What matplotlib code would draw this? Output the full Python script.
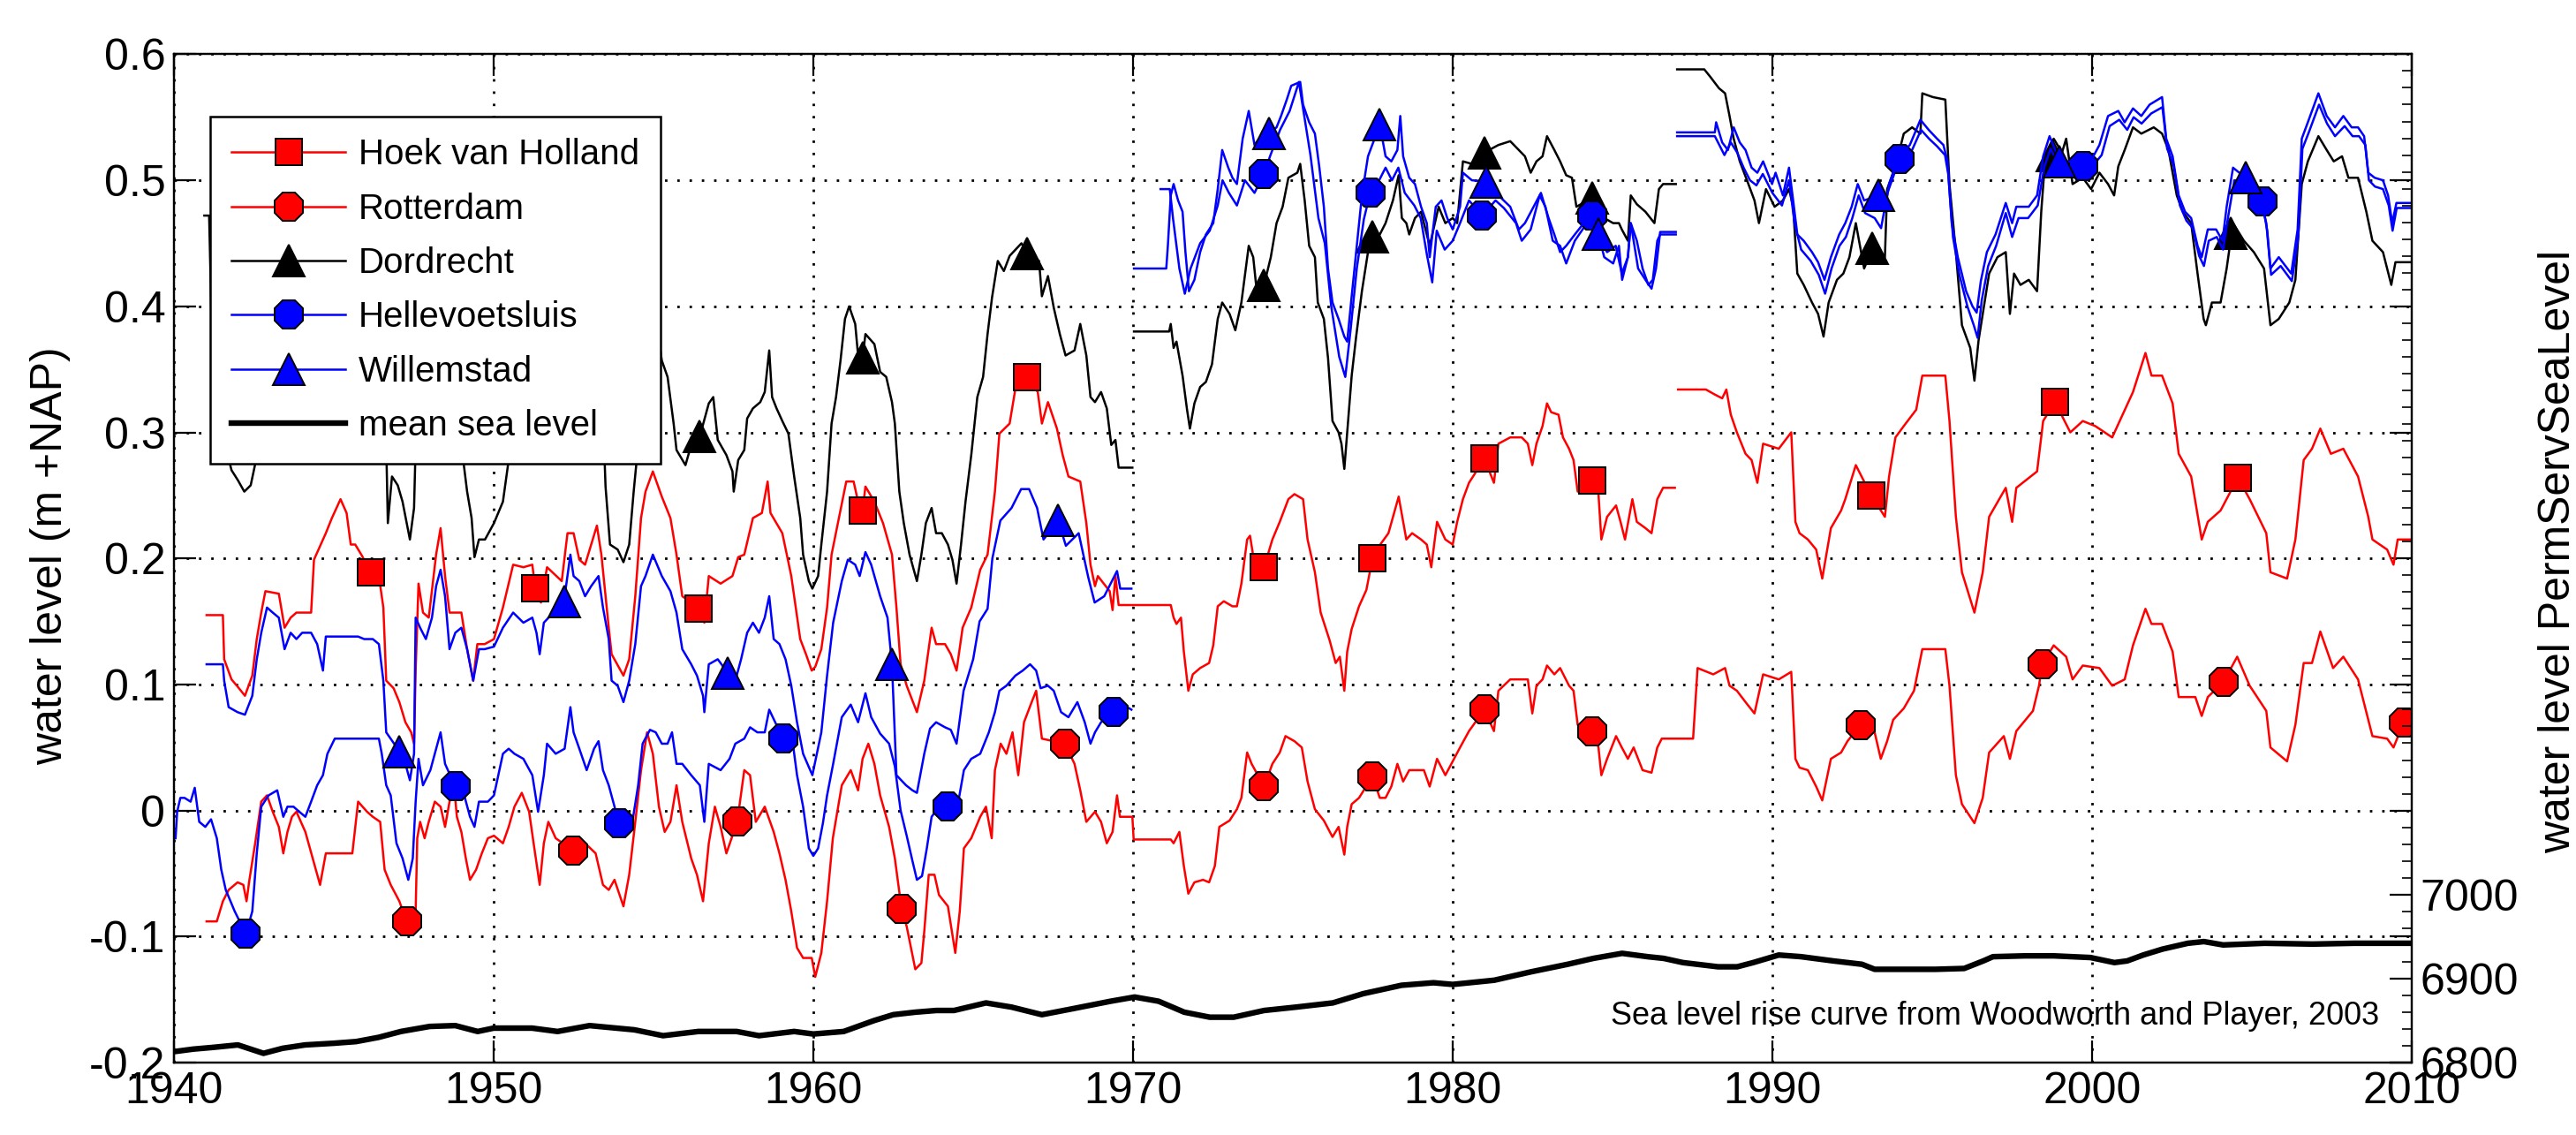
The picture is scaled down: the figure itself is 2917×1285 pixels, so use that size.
import numpy as np
import matplotlib.pyplot as plt
from matplotlib.lines import Line2D
from matplotlib.ticker import MultipleLocator

nan = np.nan

# water level (m +NAP) per station, (year, level)
hoek = [
    (1941.02, 0.155), (1941.53, 0.155), (1941.57, 0.120), (1941.8, 0.104), (1942.0, 0.098), (1942.22, 0.091),
    (1942.45, 0.107), (1942.59, 0.136), (1942.73, 0.157), (1942.86, 0.174), (1943.28, 0.172), (1943.46, 0.145),
    (1943.65, 0.153), (1943.83, 0.157), (1944.29, 0.157), (1944.38, 0.199), (1944.75, 0.220), (1944.94, 0.232),
    (1945.21, 0.247), (1945.40, 0.236), (1945.53, 0.211), (1945.67, 0.211), (1945.86, 0.203), (1946.16, 0.189),
    (1946.41, 0.186), (1946.55, 0.161), (1946.64, 0.103), (1946.87, 0.097), (1947.05, 0.086), (1947.24, 0.070),
    (1947.42, 0.062), (1947.51, 0.053), (1947.56, 0.111), (1947.65, 0.180), (1947.79, 0.157), (1947.97, 0.153),
    (1948.20, 0.203), (1948.34, 0.224), (1948.48, 0.186), (1948.62, 0.157), (1948.99, 0.157), (1949.17, 0.128),
    (1949.36, 0.103), (1949.49, 0.132), (1949.72, 0.132), (1950.01, 0.136), (1950.29, 0.161), (1950.61, 0.195),
    (1950.93, 0.193), (1951.21, 0.195), (1951.30, 0.176), (1951.48, 0.165), (1951.67, 0.193), (1952.13, 0.182),
    (1952.31, 0.220), (1952.50, 0.220), (1952.68, 0.199), (1952.86, 0.195), (1953.23, 0.226), (1953.37, 0.203),
    (1953.60, 0.145), (1953.69, 0.124), (1954.06, 0.107), (1954.24, 0.120), (1954.43, 0.170), (1954.61, 0.232),
    (1954.75, 0.253), (1954.98, 0.269), (1955.26, 0.249), (1955.53, 0.232), (1955.72, 0.203), (1955.90, 0.170),
    (1956.18, 0.165), (1956.41, 0.160), (1956.59, 0.149), (1956.73, 0.186), (1957.10, 0.180), (1957.47, 0.186),
    (1957.65, 0.201), (1957.84, 0.203), (1958.11, 0.232), (1958.39, 0.236), (1958.57, 0.261), (1958.66, 0.236),
    (1959.03, 0.220), (1959.31, 0.186), (1959.59, 0.136), (1959.77, 0.124), (1959.95, 0.111), (1960.06, 0.114),
    (1960.25, 0.128), (1960.43, 0.161), (1960.57, 0.203), (1960.80, 0.232), (1961.03, 0.261), (1961.26, 0.261),
    (1961.40, 0.245), (1961.54, 0.238), (1961.63, 0.257), (1961.91, 0.245), (1962.18, 0.228), (1962.46, 0.203),
    (1962.60, 0.161), (1962.73, 0.116), (1962.92, 0.099), (1963.24, 0.078), (1963.47, 0.103), (1963.70, 0.145),
    (1963.84, 0.132), (1964.12, 0.132), (1964.30, 0.124), (1964.48, 0.111), (1964.67, 0.145), (1964.94, 0.161),
    (1965.22, 0.191), (1965.45, 0.203), (1965.68, 0.253), (1965.82, 0.299), (1966.14, 0.307), (1966.33, 0.336),
    (1966.68, 0.344), (1967.02, 0.332), (1967.15, 0.307), (1967.34, 0.324), (1967.62, 0.303), (1967.80, 0.282),
    (1967.98, 0.265), (1968.35, 0.261), (1968.54, 0.228), (1968.67, 0.195), (1968.81, 0.178), (1968.90, 0.186),
    (1969.27, 0.174), (1969.36, 0.159), (1969.45, 0.186), (1969.55, 0.163), (1971.18, 0.163), (1971.27, 0.153),
    (1971.36, 0.148), (1971.50, 0.153), (1971.59, 0.126), (1971.73, 0.095), (1971.87, 0.108), (1972.10, 0.113),
    (1972.38, 0.117), (1972.51, 0.131), (1972.65, 0.162), (1972.84, 0.166), (1973.11, 0.162), (1973.25, 0.162),
    (1973.39, 0.180), (1973.57, 0.215), (1973.66, 0.218), (1973.76, 0.202), (1974.10, 0.193), (1974.36, 0.215),
    (1974.59, 0.229), (1974.86, 0.247), (1975.05, 0.251), (1975.32, 0.247), (1975.46, 0.215), (1975.69, 0.189),
    (1975.87, 0.157), (1976.15, 0.135), (1976.34, 0.117), (1976.47, 0.122), (1976.61, 0.095), (1976.70, 0.126),
    (1976.84, 0.144), (1977.07, 0.162), (1977.30, 0.175), (1977.49, 0.200), (1977.62, 0.207), (1977.99, 0.220),
    (1978.31, 0.249), (1978.55, 0.215), (1978.73, 0.220), (1979.01, 0.215), (1979.19, 0.211), (1979.33, 0.193),
    (1979.51, 0.229), (1979.77, 0.215), (1980.0, 0.211), (1980.14, 0.229), (1980.32, 0.247), (1980.51, 0.260),
    (1980.99, 0.279), (1981.29, 0.260), (1981.43, 0.291), (1981.80, 0.296), (1982.16, 0.296), (1982.35, 0.291),
    (1982.49, 0.274), (1982.62, 0.291), (1982.81, 0.305), (1982.95, 0.323), (1983.08, 0.316), (1983.31, 0.314),
    (1983.45, 0.296), (1983.64, 0.287), (1983.78, 0.278), (1983.91, 0.253), (1984.36, 0.262), (1984.56, 0.251),
    (1984.65, 0.215), (1984.83, 0.233), (1985.11, 0.242), (1985.25, 0.229), (1985.39, 0.215), (1985.62, 0.247),
    (1985.76, 0.229), (1986.03, 0.224), (1986.22, 0.220), (1986.40, 0.247), (1986.58, 0.256), (1986.95, 0.256),
    (1987.0, nan),
    (1987.05, 0.334), (1987.92, 0.334), (1988.20, 0.330), (1988.43, 0.327), (1988.56, 0.334), (1988.70, 0.314),
    (1988.89, 0.300), (1989.16, 0.283), (1989.35, 0.278), (1989.53, 0.260), (1989.71, 0.291), (1990.20, 0.287),
    (1990.59, 0.300), (1990.72, 0.229), (1990.85, 0.220), (1991.11, 0.215), (1991.37, 0.207), (1991.56, 0.184),
    (1991.83, 0.224), (1992.15, 0.238), (1992.28, 0.247), (1992.61, 0.274), (1993.09, 0.250), (1993.52, 0.233),
    (1993.65, 0.265), (1993.85, 0.296), (1994.11, 0.305), (1994.50, 0.318), (1994.69, 0.345), (1995.41, 0.345),
    (1995.54, 0.309), (1995.74, 0.233), (1995.93, 0.189), (1996.32, 0.157), (1996.58, 0.189), (1996.78, 0.233),
    (1997.30, 0.256), (1997.50, 0.229), (1997.63, 0.256), (1998.28, 0.269), (1998.47, 0.309), (1998.84, 0.324),
    (1999.32, 0.300), (1999.71, 0.309), (2000.10, 0.305), (2000.63, 0.296), (2001.28, 0.332), (2001.67, 0.363),
    (2001.86, 0.345), (2002.19, 0.345), (2002.52, 0.323), (2002.71, 0.283), (2003.10, 0.265), (2003.43, 0.215),
    (2003.62, 0.229), (2004.02, 0.238), (2004.56, 0.264), (2004.93, 0.247), (2005.45, 0.220), (2005.58, 0.189),
    (2006.10, 0.184), (2006.36, 0.215), (2006.62, 0.278), (2006.88, 0.287), (2007.14, 0.303), (2007.47, 0.283),
    (2007.86, 0.287), (2008.32, 0.265), (2008.64, 0.233), (2008.77, 0.215), (2009.23, 0.207), (2009.43, 0.195),
    (2009.56, 0.215), (2010.0, 0.215),
]

rotterdam = [
    (1941.02, -0.088), (1941.34, -0.088), (1941.53, -0.072), (1941.71, -0.063), (1941.99, -0.057), (1942.17, -0.059),
    (1942.27, -0.072), (1942.36, -0.055), (1942.54, -0.026), (1942.73, 0.007), (1942.91, 0.012), (1943.09, -0.001),
    (1943.28, -0.013), (1943.42, -0.034), (1943.55, -0.017), (1943.69, -0.005), (1943.83, -0.001), (1944.11, -0.017),
    (1944.34, -0.038), (1944.57, -0.059), (1944.75, -0.034), (1945.58, -0.034), (1945.76, 0.007), (1946.04, -0.001),
    (1946.22, -0.005), (1946.45, -0.009), (1946.59, -0.047), (1946.78, -0.059), (1947.05, -0.072), (1947.28, -0.088),
    (1947.56, -0.080), (1947.61, -0.022), (1947.70, -0.009), (1947.84, -0.022), (1947.97, -0.009), (1948.16, 0.007),
    (1948.34, 0.003), (1948.48, -0.013), (1948.62, 0.007), (1948.76, 0.020), (1948.85, -0.005), (1948.99, -0.017),
    (1949.13, -0.038), (1949.26, -0.055), (1949.45, -0.047), (1949.63, -0.034), (1949.82, -0.022), (1950.01, -0.020),
    (1950.29, -0.026), (1950.47, -0.013), (1950.65, 0.003), (1950.88, 0.014), (1951.11, -0.001), (1951.25, -0.026),
    (1951.44, -0.059), (1951.57, -0.026), (1951.71, -0.009), (1951.94, -0.022), (1952.50, -0.032), (1952.86, -0.026),
    (1953.19, -0.034), (1953.42, -0.059), (1953.60, -0.063), (1953.78, -0.055), (1954.06, -0.076), (1954.24, -0.051),
    (1954.43, -0.009), (1954.61, 0.032), (1954.80, 0.062), (1954.98, 0.045), (1955.17, 0.003), (1955.35, -0.017),
    (1955.53, -0.009), (1955.72, 0.020), (1955.90, -0.009), (1956.18, -0.038), (1956.36, -0.051), (1956.55, -0.072),
    (1956.73, -0.026), (1956.92, 0.003), (1957.10, -0.013), (1957.28, -0.034), (1957.62, -0.009), (1957.84, 0.032),
    (1958.02, 0.028), (1958.20, -0.009), (1958.48, 0.003), (1958.76, -0.017), (1958.94, -0.034), (1959.13, -0.055),
    (1959.31, -0.080), (1959.49, -0.109), (1959.68, -0.117), (1959.95, -0.117), (1960.06, -0.132), (1960.25, -0.113),
    (1960.43, -0.072), (1960.61, -0.022), (1960.89, 0.020), (1961.17, 0.032), (1961.40, 0.016), (1961.54, 0.041),
    (1961.72, 0.053), (1961.91, 0.037), (1962.09, 0.012), (1962.37, -0.013), (1962.55, -0.038), (1962.76, -0.078),
    (1962.92, -0.092), (1963.19, -0.126), (1963.38, -0.121), (1963.47, -0.096), (1963.61, -0.051), (1963.79, -0.051),
    (1963.93, -0.067), (1964.21, -0.076), (1964.44, -0.113), (1964.58, -0.080), (1964.71, -0.030), (1964.94, -0.022),
    (1965.22, -0.005), (1965.40, 0.003), (1965.58, -0.022), (1965.68, 0.032), (1965.86, 0.053), (1966.04, 0.045),
    (1966.23, 0.062), (1966.41, 0.028), (1966.59, 0.070), (1966.83, 0.086), (1966.97, 0.095), (1967.15, 0.057),
    (1967.87, 0.053), (1968.17, 0.037), (1968.35, 0.016), (1968.54, -0.009), (1968.81, -0.001), (1969.0, -0.009),
    (1969.18, -0.026), (1969.36, -0.017), (1969.50, 0.012), (1969.59, -0.005), (1969.98, -0.005), (1970.02, -0.023),
    (1971.18, -0.023), (1971.27, -0.026), (1971.45, -0.017), (1971.59, -0.044), (1971.73, -0.066), (1971.92, -0.057),
    (1972.19, -0.055), (1972.38, -0.057), (1972.56, -0.044), (1972.70, -0.013), (1973.02, -0.008), (1973.25, 0.001),
    (1973.39, 0.010), (1973.57, 0.046), (1973.71, 0.037), (1974.10, 0.019), (1974.36, 0.037), (1974.59, 0.046),
    (1974.77, 0.059), (1975.05, 0.055), (1975.28, 0.050), (1975.46, 0.023), (1975.69, 0.001), (1975.97, -0.008),
    (1976.24, -0.021), (1976.43, -0.013), (1976.61, -0.035), (1976.70, -0.013), (1976.84, 0.005), (1977.07, 0.010),
    (1977.49, 0.027), (1977.72, 0.010), (1977.90, 0.010), (1978.08, 0.019), (1978.27, 0.037), (1978.45, 0.023),
    (1978.64, 0.032), (1978.91, 0.032), (1979.10, 0.032), (1979.28, 0.019), (1979.51, 0.041), (1979.77, 0.028),
    (1980.0, 0.039), (1980.23, 0.050), (1980.51, 0.063), (1980.99, 0.080), (1981.29, 0.063), (1981.43, 0.095),
    (1981.80, 0.104), (1982.16, 0.104), (1982.35, 0.104), (1982.49, 0.077), (1982.62, 0.099), (1982.81, 0.104),
    (1982.95, 0.115), (1983.18, 0.108), (1983.36, 0.113), (1983.64, 0.099), (1983.78, 0.095), (1983.91, 0.068),
    (1984.37, 0.063), (1984.56, 0.050), (1984.65, 0.028), (1984.83, 0.041), (1985.11, 0.059), (1985.29, 0.050),
    (1985.48, 0.041), (1985.66, 0.050), (1985.94, 0.032), (1986.22, 0.030), (1986.40, 0.050), (1986.54, 0.057),
    (1987.52, 0.057), (1987.66, 0.113), (1988.15, 0.108), (1988.52, 0.113), (1988.66, 0.099), (1988.89, 0.095),
    (1989.16, 0.086), (1989.44, 0.077), (1989.71, 0.108), (1990.20, 0.104), (1990.59, 0.110), (1990.72, 0.041),
    (1990.85, 0.034), (1991.11, 0.032), (1991.37, 0.019), (1991.56, 0.008), (1991.83, 0.041), (1992.15, 0.046),
    (1992.35, 0.055), (1992.75, 0.068), (1993.19, 0.063), (1993.39, 0.041), (1993.59, 0.055), (1993.78, 0.072),
    (1994.11, 0.081), (1994.43, 0.095), (1994.69, 0.128), (1995.41, 0.128), (1995.54, 0.099), (1995.74, 0.028),
    (1995.93, 0.005), (1996.32, -0.010), (1996.58, 0.010), (1996.78, 0.046), (1997.24, 0.059), (1997.43, 0.041),
    (1997.63, 0.063), (1998.15, 0.079), (1998.34, 0.099), (1998.44, 0.116), (1998.80, 0.131), (1999.19, 0.122),
    (1999.39, 0.104), (1999.71, 0.115), (2000.23, 0.113), (2000.63, 0.099), (2001.02, 0.104), (2001.28, 0.131),
    (2001.67, 0.160), (2001.86, 0.148), (2002.19, 0.148), (2002.52, 0.126), (2002.71, 0.090), (2003.23, 0.090),
    (2003.43, 0.075), (2003.62, 0.090), (2004.11, 0.102), (2004.54, 0.122), (2004.93, 0.099), (2005.45, 0.079),
    (2005.58, 0.050), (2006.10, 0.039), (2006.36, 0.068), (2006.62, 0.117), (2006.88, 0.117), (2007.14, 0.142),
    (2007.54, 0.113), (2007.86, 0.122), (2008.32, 0.104), (2008.64, 0.072), (2008.77, 0.059), (2009.23, 0.057),
    (2009.43, 0.050), (2009.75, 0.070), (2010.0, 0.070),
]

dordrecht = [
    (1940.95, 0.472), (1941.1, 0.472), (1941.2, 0.36), (1941.4, 0.30), (1941.6, 0.290), (1941.8, 0.270),
    (1942.0, 0.262), (1942.2, 0.253), (1942.4, 0.258), (1942.55, 0.276), (1942.7, 0.33), (1943.0, 0.34),
    (1943.3, 0.31), (1943.46, 0.288), (1943.7, 0.33), (1944.2, 0.36), (1944.8, 0.38), (1945.3, 0.36),
    (1945.9, 0.33), (1946.4, 0.31), (1946.64, 0.290), (1946.69, 0.228), (1946.82, 0.265), (1947.0, 0.258),
    (1947.15, 0.245), (1947.38, 0.215), (1947.51, 0.240), (1947.56, 0.29), (1947.8, 0.35), (1948.2, 0.38),
    (1948.6, 0.34), (1948.99, 0.290), (1949.17, 0.253), (1949.31, 0.232), (1949.40, 0.201), (1949.54, 0.215),
    (1949.73, 0.215), (1950.01, 0.228), (1950.29, 0.245), (1950.47, 0.278), (1950.65, 0.30), (1951.0, 0.33),
    (1951.4, 0.29), (1951.8, 0.33), (1952.3, 0.36), (1952.9, 0.34), (1953.3, 0.30), (1953.46, 0.286),
    (1953.50, 0.257), (1953.64, 0.211), (1953.88, 0.207), (1954.06, 0.197), (1954.24, 0.211), (1954.38, 0.253),
    (1954.52, 0.290), (1954.7, 0.34), (1955.0, 0.38), (1955.17, 0.373), (1955.26, 0.357), (1955.44, 0.344),
    (1955.63, 0.307), (1955.72, 0.286), (1956.0, 0.274), (1956.18, 0.290), (1956.45, 0.297), (1956.73, 0.323),
    (1956.87, 0.328), (1957.01, 0.294), (1957.28, 0.282), (1957.47, 0.269), (1957.51, 0.253), (1957.65, 0.278),
    (1957.84, 0.286), (1957.93, 0.311), (1958.11, 0.319), (1958.34, 0.324), (1958.48, 0.332), (1958.62, 0.365),
    (1958.71, 0.328), (1958.85, 0.319), (1959.03, 0.309), (1959.22, 0.299), (1959.40, 0.265), (1959.59, 0.232),
    (1959.68, 0.203), (1959.86, 0.182), (1959.97, 0.176), (1960.15, 0.186), (1960.25, 0.211), (1960.43, 0.253),
    (1960.57, 0.307), (1960.71, 0.328), (1960.85, 0.357), (1960.99, 0.390), (1961.12, 0.400), (1961.31, 0.386),
    (1961.40, 0.361), (1961.54, 0.359), (1961.63, 0.378), (1961.91, 0.370), (1962.09, 0.348), (1962.28, 0.344),
    (1962.46, 0.324), (1962.55, 0.307), (1962.69, 0.253), (1962.83, 0.228), (1963.01, 0.203), (1963.24, 0.182),
    (1963.38, 0.203), (1963.52, 0.228), (1963.70, 0.240), (1963.84, 0.220), (1964.02, 0.220), (1964.21, 0.211),
    (1964.35, 0.199), (1964.48, 0.180), (1964.62, 0.211), (1964.76, 0.245), (1964.94, 0.282), (1965.13, 0.328),
    (1965.31, 0.344), (1965.45, 0.378), (1965.59, 0.407), (1965.77, 0.436), (1965.96, 0.428), (1966.14, 0.440),
    (1966.51, 0.450), (1966.69, 0.442), (1967.06, 0.436), (1967.15, 0.408), (1967.34, 0.424), (1967.52, 0.399),
    (1967.71, 0.378), (1967.89, 0.361), (1968.17, 0.365), (1968.35, 0.386), (1968.54, 0.361), (1968.67, 0.328),
    (1968.81, 0.324), (1969.0, 0.332), (1969.18, 0.319), (1969.32, 0.290), (1969.45, 0.294), (1969.55, 0.272),
    (1969.98, 0.272), (1970.0, nan),
    (1970.03, 0.380), (1971.13, 0.380), (1971.18, 0.386), (1971.27, 0.367), (1971.36, 0.372), (1971.55, 0.345),
    (1971.69, 0.318), (1971.78, 0.303), (1971.92, 0.323), (1972.10, 0.336), (1972.28, 0.340), (1972.47, 0.354),
    (1972.65, 0.390), (1972.79, 0.403), (1973.02, 0.394), (1973.20, 0.381), (1973.39, 0.403), (1973.62, 0.448),
    (1973.76, 0.439), (1973.85, 0.417), (1974.10, 0.417), (1974.31, 0.439), (1974.49, 0.466), (1974.68, 0.479),
    (1974.86, 0.502), (1975.14, 0.506), (1975.23, 0.513), (1975.37, 0.484), (1975.51, 0.448), (1975.69, 0.439),
    (1975.78, 0.403), (1975.97, 0.390), (1976.10, 0.359), (1976.24, 0.309), (1976.43, 0.300), (1976.52, 0.291),
    (1976.61, 0.271), (1976.70, 0.300), (1976.84, 0.345), (1976.98, 0.376), (1977.16, 0.412), (1977.35, 0.443),
    (1977.49, 0.455), (1977.72, 0.457), (1977.90, 0.466), (1978.13, 0.484), (1978.31, 0.504), (1978.41, 0.470),
    (1978.55, 0.466), (1978.64, 0.457), (1978.82, 0.470), (1979.01, 0.475), (1979.28, 0.448), (1979.56, 0.479),
    (1979.77, 0.466), (1980.0, 0.470), (1980.14, 0.466), (1980.32, 0.515), (1980.60, 0.513), (1980.99, 0.522),
    (1981.43, 0.528), (1981.80, 0.531), (1982.07, 0.524), (1982.26, 0.519), (1982.44, 0.506), (1982.62, 0.515),
    (1982.81, 0.519), (1982.95, 0.535), (1983.18, 0.524), (1983.36, 0.515), (1983.55, 0.504), (1983.73, 0.502),
    (1983.87, 0.479), (1984.36, 0.486), (1984.56, 0.479), (1984.74, 0.470), (1985.02, 0.466), (1985.20, 0.466),
    (1985.29, 0.461), (1985.48, 0.452), (1985.57, 0.488), (1985.76, 0.481), (1986.03, 0.475), (1986.31, 0.466),
    (1986.45, 0.493), (1986.58, 0.497), (1986.98, 0.497), (1987.0, nan),
    (1987.02, 0.588), (1987.87, 0.588), (1988.06, 0.582), (1988.33, 0.573), (1988.52, 0.569), (1988.66, 0.551),
    (1988.79, 0.533), (1988.98, 0.515), (1989.25, 0.497), (1989.44, 0.484), (1989.58, 0.466), (1989.80, 0.493),
    (1990.07, 0.479), (1990.33, 0.484), (1990.52, 0.493), (1990.65, 0.479), (1990.78, 0.426), (1990.98, 0.417),
    (1991.24, 0.403), (1991.43, 0.394), (1991.60, 0.376), (1991.76, 0.403), (1992.02, 0.421), (1992.22, 0.426),
    (1992.41, 0.439), (1992.61, 0.466), (1992.87, 0.430), (1993.13, 0.446), (1993.39, 0.443), (1993.52, 0.439),
    (1993.59, 0.493), (1993.85, 0.511), (1994.11, 0.537), (1994.37, 0.542), (1994.63, 0.537), (1994.69, 0.569),
    (1995.02, 0.566), (1995.41, 0.564), (1995.54, 0.497), (1995.74, 0.443), (1995.93, 0.385), (1996.19, 0.367),
    (1996.32, 0.341), (1996.45, 0.373), (1996.58, 0.394), (1996.78, 0.426), (1997.04, 0.439), (1997.30, 0.443),
    (1997.43, 0.394), (1997.56, 0.426), (1997.76, 0.417), (1998.02, 0.421), (1998.28, 0.412), (1998.41, 0.475),
    (1998.54, 0.519), (1998.80, 0.533), (1999.06, 0.522), (1999.19, 0.533), (1999.39, 0.497), (1999.71, 0.502),
    (1999.97, 0.493), (2000.23, 0.506), (2000.50, 0.497), (2000.69, 0.488), (2000.82, 0.511), (2001.02, 0.524),
    (2001.28, 0.542), (2001.54, 0.537), (2001.93, 0.542), (2002.19, 0.537), (2002.39, 0.524), (2002.65, 0.488),
    (2002.84, 0.475), (2003.10, 0.466), (2003.30, 0.426), (2003.49, 0.390), (2003.56, 0.385), (2003.75, 0.403),
    (2004.02, 0.403), (2004.21, 0.430), (2004.41, 0.466), (2004.75, 0.452), (2005.06, 0.443), (2005.38, 0.430),
    (2005.58, 0.385), (2005.84, 0.390), (2006.17, 0.403), (2006.36, 0.421), (2006.56, 0.497), (2006.75, 0.515),
    (2007.08, 0.535), (2007.34, 0.524), (2007.56, 0.515), (2007.82, 0.519), (2008.02, 0.502), (2008.32, 0.502),
    (2008.58, 0.475), (2008.77, 0.452), (2009.10, 0.443), (2009.36, 0.417), (2009.49, 0.435), (2010.0, 0.435),
]

hellevoetsluis = [
    (1940.05, -0.022), (1940.10, -0.001), (1940.20, 0.010), (1940.33, 0.010), (1940.52, 0.007), (1940.65, 0.018),
    (1940.79, -0.009), (1940.98, -0.013), (1941.16, -0.007), (1941.34, -0.022), (1941.48, -0.047), (1941.62, -0.063),
    (1941.90, -0.080), (1942.25, -0.098), (1942.45, -0.080), (1942.59, -0.034), (1942.73, 0.003), (1942.96, 0.012),
    (1943.23, 0.016), (1943.42, -0.005), (1943.55, 0.003), (1943.74, 0.003), (1943.92, -0.001), (1944.11, -0.005),
    (1944.29, 0.007), (1944.48, 0.020), (1944.66, 0.028), (1944.80, 0.045), (1945.03, 0.057), (1946.41, 0.057),
    (1946.50, 0.045), (1946.64, 0.020), (1946.78, 0.012), (1946.96, -0.026), (1947.15, -0.038), (1947.33, -0.055),
    (1947.47, -0.038), (1947.56, 0.007), (1947.65, 0.041), (1947.79, 0.020), (1948.02, 0.032), (1948.20, 0.049),
    (1948.34, 0.062), (1948.48, 0.037), (1948.80, 0.019), (1949.08, 0.012), (1949.26, -0.005), (1949.40, -0.013),
    (1949.54, 0.007), (1949.82, 0.007), (1950.01, 0.012), (1950.29, 0.045), (1950.47, 0.049), (1950.65, 0.045),
    (1950.93, 0.041), (1951.21, 0.028), (1951.39, -0.001), (1951.57, 0.028), (1951.67, 0.053), (1951.94, 0.045),
    (1952.22, 0.049), (1952.40, 0.082), (1952.50, 0.062), (1952.68, 0.049), (1952.91, 0.032), (1953.14, 0.049),
    (1953.28, 0.055), (1953.42, 0.032), (1953.60, 0.020), (1953.92, -0.010), (1954.34, -0.009), (1954.52, 0.020),
    (1954.66, 0.053), (1954.89, 0.064), (1955.07, 0.062), (1955.26, 0.053), (1955.44, 0.053), (1955.58, 0.062),
    (1955.72, 0.037), (1955.90, 0.037), (1956.18, 0.028), (1956.45, 0.020), (1956.59, -0.009), (1956.73, 0.037),
    (1957.10, 0.032), (1957.38, 0.041), (1957.56, 0.053), (1957.84, 0.057), (1958.02, 0.066), (1958.25, 0.062),
    (1958.48, 0.062), (1958.62, 0.080), (1959.05, 0.057), (1959.36, 0.053), (1959.49, 0.028), (1959.68, 0.003),
    (1959.86, -0.030), (1960.0, -0.036), (1960.15, -0.030), (1960.30, -0.010), (1960.43, 0.012), (1960.62, 0.037),
    (1960.89, 0.074), (1961.17, 0.084), (1961.40, 0.070), (1961.63, 0.093), (1961.81, 0.074), (1962.09, 0.061),
    (1962.37, 0.053), (1962.55, 0.035), (1962.73, 0.000), (1962.92, -0.020), (1963.10, -0.040), (1963.24, -0.055),
    (1963.40, -0.052), (1963.55, -0.030), (1963.70, -0.005), (1963.90, 0.002), (1964.21, 0.003), (1964.48, -0.001),
    (1964.71, 0.032), (1964.94, 0.041), (1965.22, 0.045), (1965.49, 0.062), (1965.68, 0.078), (1965.82, 0.095),
    (1966.04, 0.099), (1966.32, 0.107), (1966.55, 0.111), (1966.78, 0.116), (1966.97, 0.111), (1967.11, 0.097),
    (1967.34, 0.099), (1967.52, 0.095), (1967.75, 0.078), (1967.98, 0.074), (1968.26, 0.086), (1968.49, 0.070),
    (1968.67, 0.053), (1968.81, 0.062), (1969.0, 0.070), (1969.38, 0.078), (1969.55, 0.086), (1969.95, 0.080),
    (1970.0, nan),
    (1970.86, 0.493), (1971.15, 0.493), (1971.25, 0.47), (1971.45, 0.43), (1971.62, 0.41), (1971.8, 0.43),
    (1972.1, 0.45), (1972.4, 0.46), (1972.65, 0.48), (1972.8, 0.50), (1973.0, 0.49), (1973.25, 0.48),
    (1973.5, 0.50), (1973.8, 0.49), (1974.09, 0.505), (1974.3, 0.52), (1974.6, 0.54), (1974.9, 0.555),
    (1975.19, 0.578), (1975.3, 0.56), (1975.55, 0.52), (1975.8, 0.47), (1976.0, 0.45), (1976.2, 0.40),
    (1976.45, 0.36), (1976.64, 0.344), (1976.8, 0.38), (1977.0, 0.43), (1977.22, 0.469), (1977.42, 0.490),
    (1977.7, 0.50), (1977.9, 0.51), (1978.1, 0.50), (1978.3, 0.51), (1978.5, 0.49), (1978.8, 0.48),
    (1979.0, 0.47), (1979.2, 0.44), (1979.36, 0.419), (1979.5, 0.46), (1979.75, 0.445), (1980.0, 0.452),
    (1980.23, 0.466), (1980.51, 0.484), (1980.92, 0.472), (1981.34, 0.484), (1981.6, 0.478), (1981.98, 0.466),
    (1982.16, 0.452), (1982.44, 0.461), (1982.72, 0.488), (1982.9, 0.479), (1983.13, 0.452), (1983.36, 0.448),
    (1983.55, 0.434), (1983.82, 0.452), (1984.36, 0.472), (1984.6, 0.452), (1984.83, 0.443), (1985.1, 0.448),
    (1985.29, 0.426), (1985.48, 0.439), (1985.57, 0.466), (1985.8, 0.43), (1986.03, 0.421), (1986.22, 0.414),
    (1986.36, 0.430), (1986.49, 0.459), (1986.98, 0.459), (1987.0, nan),
    (1987.02, 0.535), (1988.2, 0.535), (1988.3, 0.530), (1988.5, 0.520), (1988.7, 0.530), (1988.9, 0.522),
    (1989.1, 0.510), (1989.3, 0.500), (1989.5, 0.496), (1989.7, 0.505), (1990.0, 0.490), (1990.3, 0.480),
    (1990.52, 0.500), (1990.7, 0.465), (1990.9, 0.445), (1991.2, 0.436), (1991.45, 0.425), (1991.65, 0.410),
    (1991.85, 0.430), (1992.1, 0.448), (1992.3, 0.455), (1992.5, 0.470), (1992.7, 0.488), (1992.9, 0.474),
    (1993.2, 0.470), (1993.4, 0.462), (1993.6, 0.490), (1993.98, 0.517), (1994.3, 0.520), (1994.65, 0.540),
    (1994.9, 0.533), (1995.15, 0.527), (1995.4, 0.520), (1995.5, 0.505), (1995.65, 0.455), (1995.85, 0.425),
    (1996.1, 0.400), (1996.3, 0.385), (1996.42, 0.375), (1996.55, 0.405), (1996.75, 0.432), (1997.0, 0.448),
    (1997.3, 0.474), (1997.5, 0.455), (1997.7, 0.470), (1998.0, 0.470), (1998.3, 0.480), (1998.5, 0.510),
    (1998.7, 0.525), (1999.0, 0.510), (1999.4, 0.505), (1999.71, 0.511), (2000.04, 0.512), (2000.3, 0.520),
    (2000.55, 0.543), (2000.85, 0.548), (2001.1, 0.540), (2001.3, 0.550), (2001.55, 0.545), (2001.85, 0.553),
    (2002.2, 0.558), (2002.35, 0.525), (2002.55, 0.512), (2002.75, 0.480), (2002.95, 0.468), (2003.15, 0.462),
    (2003.35, 0.440), (2003.5, 0.432), (2003.65, 0.452), (2003.9, 0.455), (2004.1, 0.445), (2004.25, 0.470),
    (2004.45, 0.500), (2004.8, 0.495), (2005.1, 0.485), (2005.32, 0.483), (2005.48, 0.460), (2005.6, 0.425),
    (2005.9, 0.432), (2006.25, 0.420), (2006.45, 0.455), (2006.58, 0.525), (2006.78, 0.538), (2007.1, 0.560),
    (2007.35, 0.545), (2007.6, 0.535), (2007.9, 0.543), (2008.15, 0.535), (2008.35, 0.535), (2008.55, 0.528),
    (2008.66, 0.500), (2008.85, 0.495), (2009.1, 0.493), (2009.28, 0.480), (2009.4, 0.460), (2009.53, 0.478),
    (2010.0, 0.478),
]

willemstad = [
    (1941.02, 0.116), (1941.53, 0.116), (1941.57, 0.103), (1941.71, 0.082), (1941.99, 0.078), (1942.22, 0.076),
    (1942.45, 0.091), (1942.59, 0.120), (1942.73, 0.141), (1942.91, 0.161), (1943.09, 0.157), (1943.28, 0.153),
    (1943.46, 0.128), (1943.65, 0.141), (1943.83, 0.136), (1944.01, 0.141), (1944.29, 0.141), (1944.48, 0.132),
    (1944.66, 0.111), (1944.75, 0.138), (1945.76, 0.138), (1945.95, 0.136), (1946.22, 0.136), (1946.41, 0.132),
    (1946.55, 0.103), (1946.64, 0.062), (1947.05, 0.047), (1947.24, 0.037), (1947.38, 0.024), (1947.51, 0.045),
    (1947.56, 0.153), (1947.70, 0.145), (1947.88, 0.136), (1948.07, 0.153), (1948.20, 0.178), (1948.34, 0.191),
    (1948.48, 0.170), (1948.62, 0.128), (1948.80, 0.141), (1948.99, 0.145), (1949.17, 0.128), (1949.36, 0.103),
    (1949.54, 0.128), (1949.72, 0.128), (1950.01, 0.130), (1950.29, 0.145), (1950.61, 0.157), (1950.93, 0.149),
    (1951.21, 0.153), (1951.34, 0.141), (1951.44, 0.124), (1951.57, 0.149), (1952.20, 0.166), (1952.40, 0.203),
    (1952.50, 0.186), (1952.68, 0.182), (1952.86, 0.170), (1953.05, 0.178), (1953.28, 0.186), (1953.42, 0.161),
    (1953.60, 0.136), (1953.69, 0.103), (1953.88, 0.099), (1954.06, 0.086), (1954.24, 0.103), (1954.43, 0.132),
    (1954.61, 0.178), (1954.75, 0.186), (1954.98, 0.203), (1955.26, 0.186), (1955.53, 0.174), (1955.72, 0.157),
    (1955.90, 0.128), (1956.18, 0.116), (1956.36, 0.107), (1956.55, 0.091), (1956.59, 0.078), (1956.73, 0.116),
    (1957.01, 0.120), (1957.33, 0.109), (1957.56, 0.103), (1957.74, 0.120), (1957.93, 0.141), (1958.11, 0.149),
    (1958.30, 0.141), (1958.48, 0.153), (1958.62, 0.170), (1958.76, 0.136), (1958.94, 0.132), (1959.13, 0.120),
    (1959.31, 0.099), (1959.49, 0.070), (1959.68, 0.045), (1959.97, 0.028), (1960.25, 0.062), (1960.43, 0.107),
    (1960.62, 0.149), (1960.89, 0.182), (1961.08, 0.199), (1961.31, 0.195), (1961.45, 0.186), (1961.63, 0.205),
    (1961.81, 0.195), (1962.09, 0.170), (1962.32, 0.153), (1962.46, 0.116), (1962.55, 0.060), (1962.60, 0.028),
    (1962.90, 0.020), (1963.10, 0.016), (1963.24, 0.014), (1963.47, 0.045), (1963.65, 0.065), (1963.84, 0.070),
    (1964.12, 0.066), (1964.30, 0.064), (1964.48, 0.053), (1964.70, 0.095), (1965.00, 0.120), (1965.20, 0.150),
    (1965.45, 0.160), (1965.60, 0.200), (1965.85, 0.230), (1966.20, 0.240), (1966.50, 0.255), (1966.75, 0.255),
    (1967.00, 0.240), (1967.20, 0.215), (1967.66, 0.230), (1967.90, 0.210), (1968.30, 0.220), (1968.60, 0.185),
    (1968.80, 0.165), (1969.10, 0.170), (1969.30, 0.180), (1969.50, 0.190), (1969.60, 0.176), (1969.95, 0.176),
    (1970.0, nan),
    (1970.03, 0.430), (1971.04, 0.430), (1971.09, 0.448), (1971.18, 0.488), (1971.27, 0.497), (1971.41, 0.484),
    (1971.55, 0.475), (1971.64, 0.443), (1971.75, 0.412), (1971.92, 0.421), (1972.10, 0.443), (1972.28, 0.457),
    (1972.51, 0.466), (1972.65, 0.493), (1972.79, 0.524), (1972.98, 0.510), (1973.11, 0.502), (1973.25, 0.497),
    (1973.43, 0.533), (1973.62, 0.555), (1973.80, 0.528), (1974.0, 0.535), (1974.26, 0.537), (1974.49, 0.542),
    (1974.63, 0.551), (1974.81, 0.564), (1974.95, 0.575), (1975.23, 0.578), (1975.32, 0.560), (1975.51, 0.546),
    (1975.69, 0.537), (1975.83, 0.510), (1975.97, 0.479), (1976.10, 0.430), (1976.24, 0.403), (1976.43, 0.390),
    (1976.61, 0.376), (1976.70, 0.372), (1976.84, 0.408), (1976.98, 0.443), (1977.16, 0.488), (1977.35, 0.519),
    (1977.72, 0.544), (1977.90, 0.519), (1978.08, 0.515), (1978.27, 0.524), (1978.36, 0.551), (1978.45, 0.519),
    (1978.64, 0.502), (1978.82, 0.497), (1979.01, 0.479), (1979.19, 0.466), (1979.28, 0.439), (1979.47, 0.479),
    (1979.65, 0.484), (1979.83, 0.470), (1980.0, 0.461), (1980.23, 0.479), (1980.32, 0.506), (1980.60, 0.500),
    (1981.06, 0.499), (1981.43, 0.488), (1981.80, 0.479), (1982.07, 0.461), (1982.26, 0.466), (1982.53, 0.479),
    (1982.76, 0.490), (1983.0, 0.470), (1983.18, 0.457), (1983.36, 0.443), (1983.55, 0.448), (1983.82, 0.457),
    (1984.10, 0.466), (1984.56, 0.457), (1984.74, 0.439), (1985.02, 0.434), (1985.20, 0.448), (1985.30, 0.421),
    (1985.48, 0.439), (1985.57, 0.466), (1985.76, 0.452), (1985.94, 0.430), (1986.12, 0.417), (1986.26, 0.421),
    (1986.40, 0.452), (1986.49, 0.457), (1986.98, 0.457), (1987.0, nan),
    (1987.02, 0.538), (1988.20, 0.538), (1988.24, 0.546), (1988.43, 0.530), (1988.61, 0.524), (1988.79, 0.542),
    (1988.98, 0.530), (1989.16, 0.524), (1989.35, 0.510), (1989.53, 0.506), (1989.71, 0.515), (1989.99, 0.497),
    (1990.10, 0.506), (1990.33, 0.488), (1990.52, 0.510), (1990.65, 0.484), (1990.78, 0.457), (1990.98, 0.452),
    (1991.24, 0.443), (1991.43, 0.435), (1991.63, 0.421), (1991.83, 0.439), (1992.09, 0.457), (1992.28, 0.466),
    (1992.48, 0.479), (1992.67, 0.497), (1992.87, 0.484), (1993.32, 0.488), (1993.52, 0.475), (1993.65, 0.497),
    (1993.98, 0.520), (1994.30, 0.528), (1994.63, 0.548), (1994.89, 0.540), (1995.15, 0.533), (1995.35, 0.528),
    (1995.48, 0.515), (1995.61, 0.466), (1995.80, 0.439), (1996.06, 0.412), (1996.26, 0.400), (1996.39, 0.395),
    (1996.52, 0.420), (1996.71, 0.443), (1996.98, 0.457), (1997.30, 0.482), (1997.50, 0.466), (1997.63, 0.479),
    (1998.02, 0.479), (1998.28, 0.488), (1998.47, 0.519), (1998.67, 0.535), (1998.99, 0.515), (1999.39, 0.515),
    (1999.71, 0.515), (2000.04, 0.519), (2000.23, 0.528), (2000.50, 0.551), (2000.82, 0.555), (2001.02, 0.546),
    (2001.28, 0.557), (2001.54, 0.551), (2001.80, 0.560), (2002.19, 0.566), (2002.32, 0.533), (2002.52, 0.519),
    (2002.71, 0.488), (2002.91, 0.475), (2003.10, 0.470), (2003.30, 0.448), (2003.43, 0.439), (2003.62, 0.461),
    (2003.88, 0.461), (2004.08, 0.452), (2004.21, 0.479), (2004.41, 0.510), (2004.80, 0.502), (2005.06, 0.488),
    (2005.32, 0.480), (2005.45, 0.466), (2005.58, 0.430), (2005.84, 0.439), (2006.23, 0.426), (2006.43, 0.461),
    (2006.56, 0.533), (2006.75, 0.546), (2007.08, 0.569), (2007.34, 0.551), (2007.60, 0.542), (2007.86, 0.551),
    (2008.12, 0.542), (2008.32, 0.542), (2008.51, 0.535), (2008.64, 0.506), (2008.84, 0.502), (2009.10, 0.500),
    (2009.26, 0.488), (2009.39, 0.466), (2009.52, 0.482), (2010.0, 0.482),
]

# marker positions along each curve
hoek_marks = [(1946.16, 0.189), (1951.30, 0.176), (1956.41, 0.160), (1961.54, 0.238), (1966.68, 0.344),
              (1974.10, 0.193), (1977.49, 0.200), (1980.99, 0.279), (1984.36, 0.262), (1993.09, 0.250),
              (1998.84, 0.324), (2004.56, 0.264)]
rotterdam_marks = [(1947.28, -0.088), (1952.50, -0.032), (1957.62, -0.009), (1962.76, -0.078), (1967.87, 0.053),
                   (1974.10, 0.019), (1977.49, 0.027), (1980.99, 0.080), (1984.37, 0.063), (1992.75, 0.068),
                   (1998.44, 0.116), (2004.11, 0.102), (2009.75, 0.070)]
dordrecht_marks = [(1956.45, 0.297), (1961.54, 0.359), (1966.69, 0.442), (1974.10, 0.417), (1977.49, 0.455),
                   (1980.99, 0.522), (1984.36, 0.486), (1993.13, 0.446), (1998.75, 0.520), (2004.35, 0.458)]
hellevoetsluis_marks = [(1942.25, -0.098), (1948.80, 0.019), (1953.92, -0.010), (1959.05, 0.057), (1964.21, 0.003),
                        (1969.38, 0.078), (1974.09, 0.505), (1977.42, 0.490), (1980.92, 0.472), (1984.36, 0.472),
                        (1993.98, 0.517), (1999.71, 0.511), (2005.32, 0.483)]
willemstad_marks = [(1947.05, 0.047), (1952.20, 0.166), (1957.33, 0.109), (1962.46, 0.116), (1967.66, 0.230),
                    (1974.26, 0.537), (1977.72, 0.544), (1981.06, 0.499), (1984.56, 0.457), (1993.32, 0.488),
                    (1998.99, 0.515), (2004.80, 0.502)]

# mean sea level (right axis, PermServSeaLevel)
msl = [
    (1940.0, 6813), (1940.6, 6816), (1941.2, 6818), (1942.0, 6821), (1942.4, 6816), (1942.8, 6811), (1943.4, 6817),
    (1944.1, 6821), (1945.0, 6823), (1945.7, 6825), (1946.4, 6830), (1947.1, 6837), (1948.0, 6843), (1948.8, 6844),
    (1949.5, 6837), (1950.0, 6841), (1951.2, 6841), (1952.0, 6837), (1953.0, 6844), (1954.4, 6839), (1955.3, 6832),
    (1956.4, 6837), (1957.6, 6837), (1958.3, 6832), (1959.4, 6837), (1960.0, 6834), (1960.95, 6837), (1961.9, 6850),
    (1962.5, 6857), (1963.2, 6860), (1963.85, 6862), (1964.4, 6862), (1965.4, 6871), (1966.2, 6866), (1967.15, 6857),
    (1968.1, 6864), (1969.3, 6873), (1970.05, 6878), (1970.8, 6873), (1971.6, 6860), (1972.4, 6854), (1973.15, 6854),
    (1974.1, 6862), (1975.1, 6866), (1976.25, 6871), (1977.2, 6882), (1978.4, 6892), (1979.4, 6895), (1980.0, 6893),
    (1981.3, 6898), (1982.45, 6908), (1983.6, 6917), (1984.4, 6924), (1985.3, 6930), (1986.1, 6926), (1986.6, 6924),
    (1987.2, 6919), (1988.3, 6914), (1988.9, 6914), (1989.4, 6919), (1990.2, 6928), (1990.9, 6926), (1991.9, 6921),
    (1992.8, 6917), (1993.2, 6911), (1994.1, 6911), (1995.1, 6911), (1996.0, 6912), (1996.6, 6921), (1996.9, 6926),
    (1997.9, 6927), (1998.8, 6927), (1999.95, 6925), (2000.7, 6919), (2001.1, 6921), (2001.6, 6928), (2002.2, 6935),
    (2003.0, 6942), (2003.5, 6944), (2004.1, 6940), (2005.4, 6942), (2006.9, 6941), (2008.2, 6942), (2010.0, 6942),
]

station_names = ['Hoek van Holland', 'Rotterdam', 'Dordrecht', 'Hellevoetsluis', 'Willemstad']
station_data = [hoek, rotterdam, dordrecht, hellevoetsluis, willemstad]
station_marks = [hoek_marks, rotterdam_marks, dordrecht_marks, hellevoetsluis_marks, willemstad_marks]
station_style = [('#ff0000', 's', 10.5), ('#ff0000', '8', 12.5), ('k', '^', 13),
                 ('#0000ff', '8', 12.5), ('#0000ff', '^', 13)]

plt.rcParams['font.family'] = ['Liberation Sans', 'DejaVu Sans']

W, H, DPI = 2917, 1285, 200
fig = plt.figure(figsize=(W / DPI, H / DPI), dpi=DPI)
ax = fig.add_axes([197 / W, 1 - 1203 / H, (2731 - 197) / W, (1203 - 61.4) / H])
ax2 = ax.twinx()

handles = []
for data, marks, (c, m, ms), name in zip(station_data, station_marks, station_style, station_names):
    x, y = np.array(data, dtype=float).T
    ax.plot(x, y, color=c, lw=0.9)
    mx, my = np.array(marks).T
    ax.plot(mx, my, ls='none', marker=m, ms=ms, mfc=c, mec='k', mew=0.7)
    handles.append(Line2D([], [], color=c, lw=0.9, marker=m, ms=ms, mfc=c, mec='k', mew=0.7, label=name))

mx, my = np.array(msl, dtype=float).T
ax2.plot(mx, my, color='k', lw=2.3)
handles.append(Line2D([], [], color='k', lw=2.3, label='mean sea level'))

ax.set_xlim(1940, 2010)
ax.set_ylim(-0.2, 0.6)
ax.set_xticks(np.arange(1940, 2011, 10))
yt = np.round(np.arange(-0.2, 0.61, 0.1), 1)
ax.set_yticks(yt)
ax.set_yticklabels(['0' if v == 0 else ('%g' % v) for v in yt])
ax.grid(True, color='k', ls=(0, (1, 4)), lw=1.0)
ax.tick_params(direction='in', length=9, width=0.8, labelsize=18, pad=3.5, top=True, right=True)

ax2.set_ylim(6800, 8000)
ax2.set_yticks([6800, 6900, 7000])
ax2.yaxis.set_minor_locator(MultipleLocator(20))
ax2.tick_params(direction='in', length=9, width=0.8, labelsize=18, pad=3.5)
ax2.tick_params(which='minor', direction='in', length=4, width=0.6)

for a in (ax, ax2):
    for s in a.spines.values():
        s.set_linewidth(0.8)

leg = ax.legend(handles=handles, loc='upper left', bbox_to_anchor=(0.0162, 0.938), borderaxespad=0,
                fontsize=14.5, handlelength=3.2, handletextpad=0.36, borderpad=0.6, labelspacing=0.58,
                fancybox=False, framealpha=1, edgecolor='k')
leg.get_frame().set_linewidth(0.9)
leg.set_zorder(10)

fig.text(57 / W, 1 - 629 / H, 'water level (m +NAP)', rotation=90, ha='center', va='center', fontsize=18)
fig.text(2897 / W, 1 - 624 / H, 'water level PermServSeaLevel', rotation=90, ha='center', va='center', fontsize=18)
fig.text(2694 / W, 1 - 1150 / H, 'Sea level rise curve from Woodworth and Player, 2003', ha='right', va='center',
         fontsize=13, family=['Liberation Sans Narrow', 'Liberation Sans'])

fig.savefig('out.png', dpi=DPI)
